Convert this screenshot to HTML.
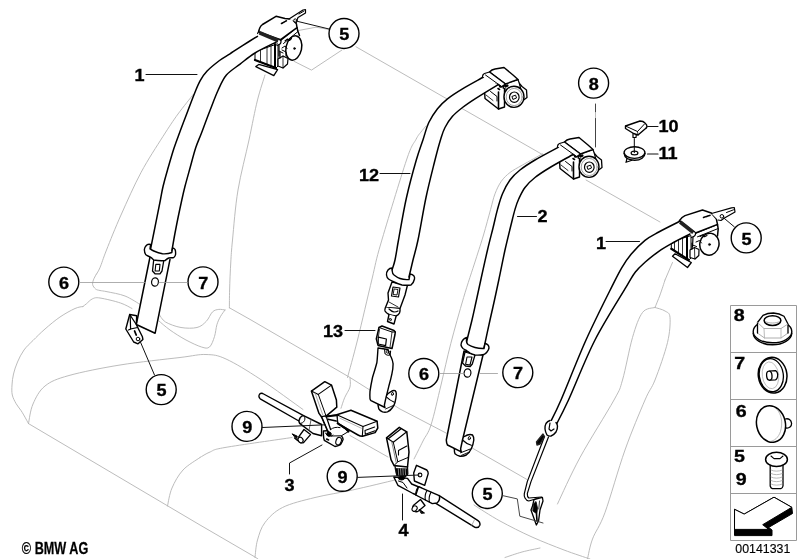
<!DOCTYPE html>
<html lang="en">
<head>
<meta charset="utf-8">
<title>Rear seat belt - parts diagram</title>
<style>
html,body{margin:0;padding:0;background:#fff;}
body{width:799px;height:559px;overflow:hidden;}
svg{display:block;font-family:"Liberation Sans",sans-serif;will-change:transform;}
path,circle,ellipse,line,polyline,polygon,rect{fill:none;stroke:#000;stroke-width:1.5;stroke-linecap:round;stroke-linejoin:round;}
.g path,.g{stroke:#b4b4b4;stroke-width:0.9;}
.w{fill:#fff;}
.k{fill:#000;}
.h{stroke-width:0.8;}
.ld{stroke:#111;stroke-width:1;}
.lg{stroke:#999;stroke-width:0.8;}
text{fill:#000;stroke:none;}
.n{font-weight:bold;font-size:17.2px;text-anchor:middle;stroke:#000;stroke-width:0.35px;}
.bd{stroke:#9a9a9a;stroke-width:1;stroke-linecap:butt;}

</style>
</head>
<body>
<svg width="799" height="559" viewBox="0 0 799 559">
<!-- 10_seat -->
<g class="g">
<path d="M193.3,94.4 C190.8,97.7 183.1,107 178,114 C172.9,121 169.2,126.7 163,136.4 C156.8,146.2 148,159.4 141,172.5 C134,185.6 126.8,202.1 121,215 C115.2,227.9 110,241.2 106.5,250 C103,258.8 101.7,263.6 100,267.6 C98.3,271.6 97.1,272.9 96.5,274"/>
<path d="M96.5,274 C96.1,274.8 94.7,276.8 94,278.5 C93.3,280.2 92.3,282.8 92.6,284.5 C92.9,286.2 94.4,288 95.6,289 C96.8,290 98.1,290.1 100,290.5 C101.9,290.9 102.8,290.8 107,291.7 C111.2,292.6 119.3,293.8 125,296 C130.7,298.2 138.3,303.5 141,305"/>
<path d="M159,314 C160.1,315.3 161.8,319.8 165.5,322 C169.2,324.2 175.8,326.6 181,327.5 C186.2,328.4 192.8,328.5 197,327.5 C201.2,326.5 203.7,323.9 206.3,321.3 C208.9,318.7 210.4,313.9 212.5,311.9 C214.6,309.9 216.7,309.7 218.8,309.4 C220.9,309.1 224,309.9 225,310"/>
<path d="M225,310 C224.3,311.1 221.9,313.9 220.6,316.3 C219.2,318.8 217.9,321.3 216.9,324.7 C215.9,328.1 215.7,332.8 214.5,336.5 C213.3,340.2 211.7,345.2 209.5,347 C207.3,348.8 205.4,348.2 201.5,347 C197.6,345.8 191.2,342.8 186,340 C180.8,337.2 174.5,333.2 170,330 C165.5,326.8 160.8,322.5 159,321"/>
<path d="M83,306.5 C83.6,306 84.9,305 86.5,303.7 C88.1,302.4 90.2,299.8 92.5,298.8 C94.8,297.9 95.3,297.3 100,298 C104.7,298.7 115.2,301.2 120.5,303 C125.8,304.8 130.1,307.6 132,308.5"/>
<path d="M83,306.5 C81.7,306.8 78.8,306.8 75,308.5 C71.2,310.2 65,313.6 60,317 C55,320.4 49.5,325.1 45,329 C40.5,332.9 36.5,337 33,340.5 C29.5,344 26.6,346.4 24,350 C21.4,353.6 19.2,358 17.5,362 C15.8,366 14.4,370.2 13.5,374 C12.6,377.8 12.2,381.5 12,385 C11.8,388.5 11.6,391.9 12.3,395 C13,398.1 14.6,400.9 16,403.5 C17.4,406.1 19.3,407.9 21,410.5 C22.7,413.1 24.8,416.8 26,419 C27.2,421.2 28.1,422.8 28.5,423.6"/>
<path d="M28.5,423.6 L200,525 L255,557 L258,559"/>
<path d="M28.5,423.6 C29.2,420.3 30.2,410.3 33,404 C35.8,397.7 39,390.8 45,386 C51,381.2 56.5,379 69,375.5 C81.5,372 101.5,368 120,365 C138.5,362 165.7,359.2 180,357.5 C194.3,355.8 198.3,354.2 206,354.5 C213.7,354.8 217,354.9 226,359 C235,363.1 247.2,370.6 260,379 C272.8,387.4 295.8,404.4 303,409.5"/>
<path d="M350,435.5 L388,457"/>
<path d="M474,505 C478.3,507.7 490.3,515.7 500,521 C509.7,526.3 521.3,532.2 532,537 C542.7,541.8 554.3,546.3 564,550 C573.7,553.7 585.7,557.5 590,559"/>
<path d="M265,75 C263.8,79.2 260.2,89.2 257.5,100 C254.8,110.8 252.2,125 249,140 C245.8,155 240.8,173.3 238,190 C235.2,206.7 233.7,228 232.5,240 C231.3,252 231.3,253.7 230.8,262 C230.3,270.3 229.8,282.4 229.6,290 C229.4,297.6 229.4,304.8 229.4,307.8"/>
<path d="M229.4,307.8 L250,319.4 L350,377.5 L400,409 L446.4,433.2 L527,479.5"/>
<path d="M350,378 C350,379.5 350.9,383.7 350,387 C349.1,390.3 346.1,394.2 344.6,397.8 C343.1,401.4 341.6,406.6 341,408.3"/>
<path d="M356,46.8 L448,99.5"/>
<path d="M462,108.5 L545,156"/>
<path d="M586,180 L660,222"/>
<path d="M294,61.3 L311.5,70.1 L342,50"/>
<path d="M297.5,30.7 L316,27.2 L329,29.5"/>
<path d="M426,126 C425.2,127 422.7,129.8 421,132 C419.3,134.2 418.4,134.7 416,139.4 C413.6,144.1 412.3,142.7 406.5,160 C400.7,177.3 386.8,223.2 381,243 C375.2,262.8 375.9,262.8 372,279 C368.1,295.2 361.6,323.6 357.5,340 C353.4,356.4 349.2,371.2 347.5,377.5"/>
<path d="M542.5,153.8 C539.2,155.7 527.9,161.9 522.5,165 C517.1,168.1 513.5,169.8 510,172.5 C506.5,175.2 503.8,177.8 501.3,181.3 C498.8,184.9 496.8,189.1 495,193.8 C493.2,198.5 492.5,202.5 490.6,209.4 C488.7,216.3 486,226.6 483.5,235 C481,243.4 478.9,249.6 475.6,260 C472.3,270.4 467.7,283.7 463.6,297.6 C459.5,311.5 454.6,328.9 450.8,343.5 C447,358.1 444.3,371.4 441,385 C437.7,398.6 434,415.7 431,425 C428,434.3 425.8,435.3 423,441 C420.2,446.7 415.5,456 414,459"/>
<path d="M200,457.5 C201.7,456.6 205.8,453.7 210,452 C214.2,450.3 211.3,449.9 225,447.5 C238.7,445.1 280.8,439.2 292,437.5"/>
<path d="M167.5,506 C168.2,503 169.4,494 172,488 C174.6,482 178.3,475.1 183,470 C187.7,464.9 197.2,459.6 200,457.5"/>
<path d="M255,557.5 C255.4,554.6 255.8,545.8 257.5,540 C259.2,534.2 260.8,527.9 265,522.5 C269.2,517.1 274.2,511.7 282.5,507.5 C290.8,503.3 303.3,500.4 315,497.5 C326.7,494.6 339.2,492.9 352.5,490 C365.8,487.1 387.9,481.7 395,480"/>
<path d="M665,280 C664.2,282.5 661.7,290.4 660,295 C658.3,299.6 655.8,305.4 655,307.5"/>
<path d="M655,307.5 C652.9,308.3 646.2,307.5 642.5,312.5 C638.8,317.5 635.8,326.2 632.5,337.5 C629.2,348.8 625.6,369.6 622.5,380 C619.4,390.4 621.1,387.1 614,400 C606.9,412.9 589.4,440.2 580,457.5 C570.6,474.8 561.2,496.2 557.5,504"/>
<path d="M655,307.5 C656.7,308.1 662.5,309.3 665,311 C667.5,312.7 669.6,312.2 670,317.5 C670.4,322.8 670,332.1 667.5,342.5 C665,352.9 658.8,370.4 655,380 C651.2,389.6 650,388.3 645,400 C640,411.7 631.7,431.2 625,450 C618.3,468.8 610.4,497.7 605,512.5 C599.6,527.3 595.4,531.2 592.5,539 C589.6,546.8 588.3,555.7 587.5,559"/>
<path d="M672.5,262.5 L665,280"/>
<path d="M505,557.5 C507.8,556.6 516.2,553.6 522,552 C527.8,550.4 537,548.7 540,548"/>
</g>
<!-- 20_retr_low -->
<g>
<path class="w" style="stroke-width:1.3" d="M255.8,66.6 L258.8,64.4 L277.6,69.6 L273.8,75.7Z"/>
<path class="w" style="stroke-width:1" d="M255,52 L255,60 L276,68 L278,66 L278,44Z"/>
<path class="h" d="M260.5,50 L260.5,61.5"/>
<path class="h" d="M267,46 L267,64.5"/>
<path class="h" d="M271,45 L271,65.5"/>
<path style="stroke-width:2" d="M275,44 L275,67"/>
<path style="stroke-width:2.2" d="M255,60 L276,68"/>
</g>
<g transform="translate(0,0)">
<path class="w" style="stroke-width:1.4" d="M484.5,90 L485,98.5 L498.5,109 L504.5,107 L504.5,86 L495,84 Z"/>
<path style="stroke-width:1.6" d="M498.5,92 L498.5,109"/>
<path style="stroke-width:1" d="M490.5,91.5 L497,96.5 L497,101"/>
<path class="h" d="M486,95 L493,100.5"/>
</g>
<g transform="translate(75,70)">
<path class="w" style="stroke-width:1.4" d="M484.5,90 L485,98.5 L498.5,109 L504.5,107 L504.5,86 L495,84 Z"/>
<path style="stroke-width:1.6" d="M498.5,92 L498.5,109"/>
<path style="stroke-width:1" d="M490.5,91.5 L497,96.5 L497,101"/>
<path class="h" d="M486,95 L493,100.5"/>
</g>
<g>
<path class="w" style="stroke-width:1.3" d="M672.5,256.3 L675,253.8 L691.3,262.5 L687.5,267.5Z"/>
<path class="w" style="stroke-width:1" d="M671.3,242 L671.3,248.8 L688.8,260 L691,258 L691,236Z"/>
<path class="h" d="M674.5,241 L674.5,251"/>
<path class="h" d="M678.5,238 L678.5,253.5"/>
<path class="h" d="M682.5,236 L682.5,256"/>
<path style="stroke-width:2" d="M687,235 L687,259"/>
<path style="stroke-width:2.2" d="M671.3,248.8 L688.8,260"/>
</g>
<!-- 25_pre -->
<g>
<path class="w" style="stroke-width:1.4" d="M460,438 C462,437.6 465.6,435.8 467.5,435 C469.2,434.4 471,434.4 472.5,435 C473.5,436.3 473.9,438 473.8,440 C473.4,443.3 472.5,446.3 471.3,448.8 C470,451.5 468.4,453.6 466.3,455 C464.3,456 462.2,456.4 460,456.3 C458,455.8 456.3,455 455,453.8 C454.5,452.5 454.3,451.2 454.4,450 L454,446 Z"/>
<ellipse style="stroke-width:0.9" cx="469.3" cy="438.2" rx="1.1" ry="1.7" transform="rotate(15 469.3 438.2)"/>
<path style="stroke-width:1" d="M460.5,452.8 L470.3,449"/>
<path style="stroke-width:0.9" d="M461.5,455.3 L469.5,452"/>
</g>
<!-- 30_belts -->
<path d="M257.5,36.3 C255,37.8 247.1,42.7 242.5,45.6 C237.9,48.5 233.8,51.3 230,53.8 C226.2,56.3 223.3,57.6 219.5,60.5 C215.7,63.4 210.3,67.7 207.1,71 C203.9,74.3 202.3,76.9 200.2,80.6 C198.1,84.3 196.8,87.9 194.7,93 C192.6,98.1 190.2,104.7 187.8,111 C185.4,117.3 182.5,124.7 180.2,131 C177.9,137.3 175.9,142.3 173.8,148.8 C171.7,155.3 169.3,163.8 167.5,170 C165.7,176.2 164.3,181.3 163.1,186.3 C161.9,191.3 161.8,192.7 160.4,200 C159,207.3 156,221.9 154.4,230 C152.8,238.1 151.2,245.7 150.6,248.8 L171.9,251 C172.5,247.5 173.9,238.5 175.6,230 C177.2,221.5 180.2,207.3 181.8,200 C183.4,192.7 183.6,191.8 185,186.3 C186.4,180.8 188.5,173.5 190.3,167 C192.1,160.5 193.9,153.2 195.8,147.5 C197.7,141.8 199.2,139.1 201.5,133 C203.8,126.9 207,118.1 209.8,111 C212.6,103.9 215.3,96.3 218.1,90.3 C220.9,84.3 222.7,79.5 226.4,75.1 C230.1,70.7 235.3,67.8 240.1,64.1 C244.9,60.4 248.9,56.7 255,53 C261.1,49.3 272.9,43.8 276.5,41.9 Z" style="fill:#fff;stroke:none"/>
<path d="M257.5,36.3 C255,37.8 247.1,42.7 242.5,45.6 C237.9,48.5 233.8,51.3 230,53.8 C226.2,56.3 223.3,57.6 219.5,60.5 C215.7,63.4 210.3,67.7 207.1,71 C203.9,74.3 202.3,76.9 200.2,80.6 C198.1,84.3 196.8,87.9 194.7,93 C192.6,98.1 190.2,104.7 187.8,111 C185.4,117.3 182.5,124.7 180.2,131 C177.9,137.3 175.9,142.3 173.8,148.8 C171.7,155.3 169.3,163.8 167.5,170 C165.7,176.2 164.3,181.3 163.1,186.3 C161.9,191.3 161.8,192.7 160.4,200 C159,207.3 156,221.9 154.4,230 C152.8,238.1 151.2,245.7 150.6,248.8"/>
<path d="M276.5,41.9 C272.9,43.8 261.1,49.3 255,53 C248.9,56.7 244.9,60.4 240.1,64.1 C235.3,67.8 230.1,70.7 226.4,75.1 C222.7,79.5 220.9,84.3 218.1,90.3 C215.3,96.3 212.6,103.9 209.8,111 C207,118.1 203.8,126.9 201.5,133 C199.2,139.1 197.7,141.8 195.8,147.5 C193.9,153.2 192.1,160.5 190.3,167 C188.5,173.5 186.4,180.8 185,186.3 C183.6,191.8 183.4,192.7 181.8,200 C180.2,207.3 177.2,221.5 175.6,230 C173.9,238.5 172.5,247.5 171.9,251"/>
<path class="w" d="M150,257 L136.3,324.5 L155.1,333.3 L170,259.4"/>
<path d="M483.5,77 C480,79 468.5,85.2 462.5,88.8 C456.5,92.4 451.7,95.5 447.5,98.8 C443.3,102.1 440.6,104.8 437.5,108.8 C434.4,112.8 431.2,117.4 428.8,122.5 C426.4,127.6 425.2,133.2 423.1,139.4 C421,145.7 419.1,150.3 416.3,160 C413.5,169.7 409.5,184.2 406.5,197.5 C403.5,210.8 400.4,229.6 398.5,240 C396.6,250.4 396.1,255 395,260 C393.9,265 392.5,268.3 392,270 L409,277 C409.7,274.2 411.5,266.2 413,260 C414.5,253.8 415.8,250.4 418,240 C420.2,229.6 423.2,210.8 426,197.5 C428.8,184.2 432.6,169.7 435,160 C437.4,150.3 438.9,144.8 440.6,139.4 C442.3,134 443,131.3 445,127.5 C447,123.7 449.6,119.6 452.5,116.3 C455.4,113 458.8,110.4 462.5,107.5 C466.2,104.6 469.1,102.6 475,98.8 C480.9,95 494.2,87 498,84.7 Z" style="fill:#fff;stroke:none"/>
<path d="M483.5,77 C480,79 468.5,85.2 462.5,88.8 C456.5,92.4 451.7,95.5 447.5,98.8 C443.3,102.1 440.6,104.8 437.5,108.8 C434.4,112.8 431.2,117.4 428.8,122.5 C426.4,127.6 425.2,133.2 423.1,139.4 C421,145.7 419.1,150.3 416.3,160 C413.5,169.7 409.5,184.2 406.5,197.5 C403.5,210.8 400.4,229.6 398.5,240 C396.6,250.4 396.1,255 395,260 C393.9,265 392.5,268.3 392,270"/>
<path d="M498,84.7 C494.2,87 480.9,95 475,98.8 C469.1,102.6 466.2,104.6 462.5,107.5 C458.8,110.4 455.4,113 452.5,116.3 C449.6,119.6 447,123.7 445,127.5 C443,131.3 442.3,134 440.6,139.4 C438.9,144.8 437.4,150.3 435,160 C432.6,169.7 428.8,184.2 426,197.5 C423.2,210.8 420.2,229.6 418,240 C415.8,250.4 414.5,253.8 413,260 C411.5,266.2 409.7,274.2 409,277"/>
<path d="M558.5,147.2 C554.6,149.3 541.4,156.2 535,160 C528.6,163.8 524.2,166.7 520,170 C515.8,173.3 512.9,176 510,180 C507.1,184 504.6,188.9 502.5,193.8 C500.4,198.7 499.1,203.7 497.5,209.4 C495.9,215.1 494.7,221.2 493,228 C491.3,234.8 489.5,241.5 487.5,250 C485.5,258.5 482.9,270.3 481,279 C479.1,287.7 477.5,295.2 476,302 C474.5,308.8 473.6,313.3 472,320 C470.4,326.7 467.4,338.3 466.5,342 L484,348 C485,343.3 488.2,328 490,320 C491.8,312 493,306.8 494.5,300 C496,293.2 497.2,287.3 499,279 C500.8,270.7 503,259 505,250 C507,241 509.3,231.8 511,225 C512.7,218.2 513.7,213.8 515,209.4 C516.3,205 517.1,202.5 518.8,198.8 C520.5,195.2 522.3,191.1 525,187.5 C527.7,183.9 530.8,180.8 535,177.5 C539.2,174.2 543.7,171.3 550,167.5 C556.3,163.7 569.2,156.7 573,154.5 Z" style="fill:#fff;stroke:none"/>
<path d="M558.5,147.2 C554.6,149.3 541.4,156.2 535,160 C528.6,163.8 524.2,166.7 520,170 C515.8,173.3 512.9,176 510,180 C507.1,184 504.6,188.9 502.5,193.8 C500.4,198.7 499.1,203.7 497.5,209.4 C495.9,215.1 494.7,221.2 493,228 C491.3,234.8 489.5,241.5 487.5,250 C485.5,258.5 482.9,270.3 481,279 C479.1,287.7 477.5,295.2 476,302 C474.5,308.8 473.6,313.3 472,320 C470.4,326.7 467.4,338.3 466.5,342"/>
<path d="M573,154.5 C569.2,156.7 556.3,163.7 550,167.5 C543.7,171.3 539.2,174.2 535,177.5 C530.8,180.8 527.7,183.9 525,187.5 C522.3,191.1 520.5,195.2 518.8,198.8 C517.1,202.5 516.3,205 515,209.4 C513.7,213.8 512.7,218.2 511,225 C509.3,231.8 507,241 505,250 C503,259 500.8,270.7 499,279 C497.2,287.3 496,293.2 494.5,300 C493,306.8 491.8,312 490,320 C488.2,328 485,343.3 484,348"/>
<path class="w" style="stroke-width:1.5" d="M464,351 L446.3,440 C446.4,442.5 446.9,444 447.5,445 L461.3,451.9 C460.9,450.5 460.7,449.6 460.6,448.8 L462.5,440 L483,355 Z"/>
<path style="stroke-width:1.2" d="M462.5,440 C465,442.5 468,444.3 471.3,445.3"/>
<path d="M679.4,221.5 C676,223.2 664.5,228.9 658.8,232 C653.1,235.1 649.6,236.6 645,240.3 C640.4,244 635.2,249.4 631.3,254 C627.4,258.6 624.9,262.4 621.7,267.8 C618.5,273.2 618,274.4 612,286.4 C606,298.4 594.5,321.1 586,340 C577.5,358.9 567,386.2 561,400 C555,413.8 551.8,419.2 550,423 L554,429 C556.4,424.2 561.7,414.8 568.5,400 C575.3,385.2 585.3,358.9 595,340 C604.7,321.1 619.8,297.7 626.5,286.4 C633.2,275.1 632.3,276 635.4,272 C638.5,268 641.1,265.8 645,262.3 C648.9,258.9 654.2,254.5 658.8,251.3 C663.4,248.1 667.4,245.9 672.6,243 C677.8,240.1 687.1,235.5 690,234 Z" style="fill:#fff;stroke:none"/>
<path d="M679.4,221.5 C676,223.2 664.5,228.9 658.8,232 C653.1,235.1 649.6,236.6 645,240.3 C640.4,244 635.2,249.4 631.3,254 C627.4,258.6 624.9,262.4 621.7,267.8 C618.5,273.2 618,274.4 612,286.4 C606,298.4 594.5,321.1 586,340 C577.5,358.9 567,386.2 561,400 C555,413.8 551.8,419.2 550,423"/>
<path d="M690,234 C687.1,235.5 677.8,240.1 672.6,243 C667.4,245.9 663.4,248.1 658.8,251.3 C654.2,254.5 648.9,258.9 645,262.3 C641.1,265.8 638.5,268 635.4,272 C632.3,276 633.2,275.1 626.5,286.4 C619.8,297.7 604.7,321.1 595,340 C585.3,358.9 575.3,385.2 568.5,400 C561.7,414.8 556.4,424.2 554,429"/>
<!-- 40_retr_up -->
<g>
<ellipse class="w" cx="293.8" cy="48" rx="7.8" ry="12.3" transform="rotate(12 293.8 48)"/>
<circle class="k" style="stroke-width:0.5" cx="294.5" cy="48.5" r="1"/>
<path d="M281,40 L297,27.5 L297.8,31 L299.5,35.5"/>
<path style="stroke-width:1.2" d="M281,40 L279,45 L279,56"/>
<path style="stroke-width:1" d="M283.5,43.5 L298,31.5"/>
<path style="stroke-width:1.1" d="M285,41 L287.5,39 L289.5,40.5 L291.5,38.5"/>
<path style="stroke-width:1" d="M282,48 L285,46 L287,48.5"/>
<path style="stroke-width:1" d="M279,51 L283,53"/>
<path class="w" style="stroke-width:1.2" d="M278,59 L283,56 L288,58.5 L287.5,64 L283,68 L278,66Z"/>
<path class="h" d="M283,56 L283,68"/>
<path style="stroke-width:1.2" d="M280,52 L280,58"/>
<path style="stroke-width:1" d="M282,50 L286,52 L286,56"/>
<path class="w" d="M258.8,32 C259,28.5 260.5,26 262.5,24.5 L276,16.3 L285,18.5 L292,19.3 L296.4,23.8 L297,27.5 L280.6,39.6 Z"/>
<path class="w" style="stroke-width:1.2" d="M289,19 L303,10 L305.5,9.5 L305.5,13 L298,17.5 L297,20 L296.5,22.5"/>
<path style="stroke-width:1" d="M299,14 L304,11"/>
<circle class="w" style="stroke-width:1" cx="295.3" cy="20.5" r="1.6"/>
<path style="stroke-width:1.6;stroke-dasharray:1.2 1" d="M281.5,23.5 L287,20.5"/>
<path style="stroke-width:3.8;stroke:#222;stroke-linecap:butt" d="M259.5,32.8 L278.4,40.8"/>
<path style="stroke-width:1.2" d="M257.6,33.5 L258.8,31"/>
<path class="w" style="stroke-width:1.2" d="M279,39.3 C281.5,40 281.5,42.5 280,44 L277,45.5"/>
</g>
<g transform="translate(0,0)">
<path class="w" style="stroke-width:1.3" d="M519,83 L522,86.5 L526.5,90 L527,97.5 L523,100.5 L520,98"/>
<path class="w" style="stroke-width:1.2" d="M505,84 L518,79.5 L519.5,84 L521,90 L508,90 L503,88 Z"/>
<ellipse class="w" style="stroke-width:1.4" cx="514" cy="96.8" rx="10" ry="10.6"/>
<ellipse class="h" style="stroke:#888" cx="514.2" cy="97" rx="8" ry="8.6"/>
<ellipse class="w" style="stroke-width:1.2" cx="514.3" cy="97.2" rx="4.8" ry="5.2"/>
<path style="stroke-width:1" d="M512.3,96.3 L515.6,95.2 L516.5,98 L513.3,99.3 Z"/>
<path style="stroke-width:2.8" d="M500.3,86.3 L503,85.6"/>
<path style="stroke-width:2.6" d="M505.5,86.3 L507.3,85.6"/>
<path style="stroke-width:1.6" d="M498,88.5 L499.5,89.5"/>
<path class="w" style="stroke-width:1.4" d="M489.5,72 C491,70.3 493,69.3 495,69 L504,67.5 L513,75 L518,79.5 L505.5,84 Z"/>
<path class="w" style="stroke-width:1.3" d="M482.5,76.5 C482.6,75 483.3,74 484.5,73.5 L489.5,72 L505.5,84 L501.5,86.8 L498,84.3"/>
<path style="stroke-width:1" d="M485.5,75 L500.5,85.8"/>
</g>
<g transform="translate(75,70)">
<path class="w" style="stroke-width:1.3" d="M519,83 L522,86.5 L526.5,90 L527,97.5 L523,100.5 L520,98"/>
<path class="w" style="stroke-width:1.2" d="M505,84 L518,79.5 L519.5,84 L521,90 L508,90 L503,88 Z"/>
<ellipse class="w" style="stroke-width:1.4" cx="514" cy="96.8" rx="10" ry="10.6"/>
<ellipse class="h" style="stroke:#888" cx="514.2" cy="97" rx="8" ry="8.6"/>
<ellipse class="w" style="stroke-width:1.2" cx="514.3" cy="97.2" rx="4.8" ry="5.2"/>
<path style="stroke-width:1" d="M512.3,96.3 L515.6,95.2 L516.5,98 L513.3,99.3 Z"/>
<path style="stroke-width:2.8" d="M500.3,86.3 L503,85.6"/>
<path style="stroke-width:2.6" d="M505.5,86.3 L507.3,85.6"/>
<path style="stroke-width:1.6" d="M498,88.5 L499.5,89.5"/>
<path class="w" style="stroke-width:1.4" d="M489.5,72 C491,70.3 493,69.3 495,69 L504,67.5 L513,75 L518,79.5 L505.5,84 Z"/>
<path class="w" style="stroke-width:1.3" d="M482.5,76.5 C482.6,75 483.3,74 484.5,73.5 L489.5,72 L505.5,84 L501.5,86.8 L498,84.3"/>
<path style="stroke-width:1" d="M485.5,75 L500.5,85.8"/>
</g>
<g>
<ellipse class="w" cx="709.4" cy="244.2" rx="9.6" ry="11" transform="rotate(10 709.4 244.2)"/>
<circle class="k" style="stroke-width:0.5" cx="709.5" cy="244.5" r="1.1"/>
<path d="M695.6,233 L717.5,224.4 L718.2,229 L717.5,236"/>
<path style="stroke-width:1.2" d="M695.6,233 L693,237 L692.5,247"/>
<path style="stroke-width:1" d="M697.5,236.8 L718,228.6"/>
<path style="stroke-width:1.1" d="M700,236.5 L703,235 L704.5,236.8 L707,235.5"/>
<path style="stroke-width:1" d="M696,242 L699.5,240.5 L701.5,243"/>
<path style="stroke-width:1" d="M692.5,245 L696.5,246.5"/>
<path class="w" style="stroke-width:1.2" d="M690,250 L694.5,247.5 L699,249.5 L698.8,255.5 L695,259 L690,257.5Z"/>
<path class="h" d="M694.5,247.5 L694.8,259"/>
<path style="stroke-width:1.2" d="M692,243 L692,249"/>
<path class="w" d="M679.4,220.6 C680.5,218.5 682.5,216.8 685,215.6 L702.5,210 L711.3,213 L716.3,218.8 L717.5,224.4 L695.6,233 Z"/>
<path class="w" style="stroke-width:1.2" d="M711.5,213.5 L731.5,207.8 L734.3,207.5 L735,212 L724,218.2 L721,220.5 L718,220"/>
<path style="stroke-width:1" d="M726.5,212.5 L733.5,209.8"/>
<circle class="w" style="stroke-width:1" cx="721.9" cy="216.3" r="1.8"/>
<path style="stroke-width:1.6;stroke-dasharray:1.2 1" d="M703.5,217.5 L710,215.3"/>
<path style="stroke-width:3.8;stroke:#222;stroke-linecap:butt" d="M680.2,222 L693.4,232.6"/>
<path class="w" style="stroke-width:1.2" d="M694,231.5 C696,232.2 696,234.5 694.5,236 L691.5,237.5"/>
</g>
<!-- 50_latches -->
<g>
<path class="w" style="stroke-width:1.3" d="M153.8,259 L152.5,271 L155,273.8 L160,273.8 L162,271 L163.8,260.5 Z"/>
<path style="stroke-width:1.1" d="M155.8,264.4 L160,264.4 L159.3,271 L155.1,271Z"/>
<path class="w" style="stroke-width:1.4" d="M150.6,244.4 C148.5,244 146.8,244.6 146.3,245.6 C145,247 144.2,248.5 144.4,250 C144.5,252 144.8,253.5 145.6,254.4 C147,255.8 148.5,256.3 150,256.9 C151.5,257.6 152.6,258.8 153.8,260 C157,260.6 161,260.9 165,260.6 C166.3,259.5 167.3,258.5 168.8,258 C170.5,257.7 172.3,257.9 173.8,257.5 C175,256.6 175.6,255.3 175.6,253.8 C175.7,252 175.5,250.5 175,249.4 C174.3,248.6 173.4,248.1 172.5,248 L171.9,252.5 C168.5,253.9 165.5,254 162.5,253.8 C159.5,253.4 156.5,252.3 153.8,251 C152.3,250.4 151.2,249.6 150,248.8 Z"/>
<ellipse class="w" style="stroke-width:1.2" cx="155" cy="282" rx="3.4" ry="4.2" transform="rotate(8 155 282)"/>
</g>
<g>
<path class="w" style="stroke-width:1.4" d="M129.7,314.5 L136.7,315.8 L136.3,324.5 L138,328 L142.4,336.8 L142.9,339.4 L138,343.8 L133.7,342 L125.8,329 Z"/>
<path style="stroke-width:1.3" d="M129.7,314.5 L136.3,324.5"/>
<path style="stroke-width:1.2" d="M130.2,316 L130.6,329 L137.5,327.5"/>
<path style="stroke-width:1.2" d="M128.5,330 L130.6,329"/>
<path style="stroke-width:1.8" d="M134.6,331 L136.2,335"/>
<circle style="stroke-width:1" cx="138" cy="339" r="1.8"/>
</g>
<g>
<path class="w" style="stroke-width:1.4" d="M392,282 L388,293 L388.5,300 L385.5,307.5 L400,308.5 L405,295 L407.5,285 Z"/>
<path style="stroke-width:1.2" d="M393,287 L400,288 L398.5,297 L391.5,296Z"/>
<path style="stroke-width:0.9" d="M394.5,289 L398,289.5 L397,295 L393.5,294.5Z"/>
<path class="h" d="M389,302 L398,307"/>
<path class="w" style="stroke-width:1.4" d="M392,268 C390.5,268 389,268.8 388,270 C386.8,271.5 386.3,273.3 386.5,275 C386.7,276.8 387.3,278 388.5,279 C390,280.2 391.5,280.8 393,281.5 C396,283 399,284.3 402,285 C405,285.4 408,285.4 411,285 C412.8,283.5 414,281.5 414.5,279 C414.7,277.8 414.5,276.8 414,276 C413,274.8 411.5,274.2 410,274 L409,279.5 C405.5,279.8 402.5,279.4 400,278.5 C397.5,277.6 395.5,276.2 394,275 C392.8,274.2 392.2,272 392,270 Z"/>
<path class="w" style="stroke-width:1.4" d="M385.5,307.5 C384.8,308.8 384.7,310 385,311 C386,312.8 387.5,313.8 389,314.5 C391.3,315.5 393.6,316 396,316 C397.8,315.3 398.9,314.3 399.5,313 C400,311.6 400.2,310.2 400,309"/>
<path style="stroke-width:1.2" d="M389,309 C390.5,310.5 392,311.5 394,312 C395.5,312 397,311.7 398,311"/>
<path class="w" style="stroke-width:1.4" d="M389,314.5 L387.5,321.5 L394,324 L396,316.5"/>
<path style="stroke-width:0.9" d="M390,318.5 L391.5,319 L391.2,320.5 L389.7,320Z"/>
</g>
<g>
<path class="w" style="stroke-width:1.4" d="M384,398 C386.5,394.5 389,392.3 391.3,391.3 C392.6,390.5 393.9,390.3 395,390.6 C395.9,391.4 396.3,392.5 396.3,393.8 C396.2,396.8 395.7,399.8 395,402.5 C394.4,404.5 393.6,406.2 392.5,407.5 C391.2,409.5 389.5,411 387.5,411.9 C385.8,412.3 384.1,412.3 382.5,411.9 C381,411.2 379.7,410.2 378.8,408.8 L378,405 Z"/>
<ellipse style="stroke-width:0.9" cx="392.4" cy="393.9" rx="1" ry="1.6" transform="rotate(15 392.4 393.9)"/>
<path style="stroke-width:0.9" d="M385.5,409 L393.3,405.5"/>
<path class="w" style="stroke-width:1.4" d="M378,348 C377.7,353 377.4,358 376.9,362.5 C375.6,367.6 374,372.5 372.5,377.5 C371.5,382.2 370.6,386.8 370,391.3 C369.8,394 369.8,396.5 370,398.8 C370.2,399.6 370.5,400.2 371,400.6 L385,407.5 C384.6,406.6 384.4,405.8 384.4,405 C385,402 385.6,399.1 386.3,396.3 C387.1,393 388,389.6 388.8,386.3 C390,382 391.1,377.8 391.9,373.8 C392.7,370.3 393.1,367 393.1,363.8 C392.8,361.5 392.2,359.4 391.3,357.5 L388.5,352 L388,349.5 Z"/>
<path style="stroke-width:1.1" d="M386.3,396.8 C388.8,399.3 391.5,401 394.4,402.3"/>
<path style="stroke-width:1.1" d="M384.6,349.5 L385,353.5 C386.5,355.3 388.5,355.6 390.2,354.6 L390.6,351"/>
<ellipse style="stroke-width:0.9" cx="387.7" cy="351.6" rx="1.3" ry="1.6"/>
<path class="w" style="stroke-width:1.5" d="M379,327.5 L382,326 L394,330.5 L395.3,332 L395,334.5 L392,348.5 L378,345.4 L376.3,338.8 Z"/>
<path style="stroke-width:1" d="M379,327.5 L392,332 L395.3,332"/>
<path class="h" d="M392,332 L390,347.5"/>
<path style="stroke-width:1.2" d="M378.3,337.2 L386.4,339 L385.6,345.6 L378.2,344Z"/>
<path class="h" d="M379.5,329.5 L378.3,337.2"/>
</g>
<!-- 55_small -->
<g>
<path class="w" style="stroke-width:1.2" d="M633,133.5 L633,137.5 L636,137.5 L636.3,134.5"/>
<path class="w" style="stroke-width:1.4" d="M625.5,126 L640,121 C642,121 644,121.8 645,123 C646.3,124 647,125.3 647,126.5 C646.8,127.6 646,128.4 645,129 L638,135 L633.5,133.5 L625.5,128.5 Z"/>
<path style="stroke-width:1" d="M625.5,126 L637.5,131.5 L644.5,124"/>
<path class="h" d="M637.5,131.5 L638,135"/>
<path style="stroke-width:1" d="M634.3,138.5 L634.3,152"/>
<path class="w" style="stroke-width:1.2" d="M627,158.5 L626,162.3 L632,160.3"/>
<path class="w" style="stroke-width:1.4" d="M624.2,153.5 C624.5,157 628,160 634.5,160.3 C641,160.3 644.8,157 645,153.5"/>
<ellipse class="w" style="stroke-width:1.4" cx="634.5" cy="152.6" rx="10.4" ry="5.8"/>
<ellipse class="w" style="stroke-width:1.2" cx="634.5" cy="153" rx="3.4" ry="1.9"/>
<path style="stroke-width:1" d="M634.3,147 L634.3,152.6"/>
</g>
<!-- 60_buckle3 -->
<g>
<path class="w" style="stroke-width:1.4" d="M262.7,393.5 L303.6,415.6 L298.9,421 L260.2,398.8 C258.6,397.5 258.6,395.3 259.7,394.1 C260.5,393.3 261.6,393.1 262.7,393.5 Z"/>
<path class="w" style="stroke-width:1.4" d="M303.6,415.6 L321.6,424.5 L321.6,435.8 L313,433.5 L299.6,423.4 C298.6,421.5 299,419.5 300.2,417.6 C301.2,416.3 302.3,415.6 303.6,415.6 Z"/>
<path style="stroke-width:1" d="M303.6,415.8 C305,416.8 305.3,418.6 304.5,420.6 C303.5,422.5 301.6,423.6 299.6,423.4"/>
<path style="stroke-width:0.9;stroke:#555" d="M311,419.8 L309,430.3"/>
<path class="w" style="stroke-width:1.3" d="M304,429.5 L298.2,437.6 C297.6,439.6 298.3,441.4 300,442.4 C301.6,443.2 303,443 304,442.2 L310.5,434.6 Z"/>
<ellipse class="w" style="stroke-width:1.1" cx="300.6" cy="440" rx="2.3" ry="2.9" transform="rotate(-35 300.6 440)"/>
<path class="k" style="stroke-width:1" d="M292.5,434 L297.3,436.2 L296.3,438.4 Z"/>
<path style="stroke-width:1.2" d="M294.5,438 L297.5,440.5"/>
<path class="w" style="stroke-width:1.4" d="M323.4,431 L323.4,434.9 C323.5,437 323.8,438.8 324.3,440.3 L335,446.5 C337,446.3 338.8,445.6 340.4,444.7 C341.6,443.2 342.5,441.4 343.1,439.4 C343,438 342.3,436.8 341.3,435.8 L338,430 Z"/>
<ellipse class="w" style="stroke-width:1.1" cx="338.6" cy="441.1" rx="2.6" ry="3.9" transform="rotate(20 338.6 441.1)"/>
<path style="stroke-width:1.6" d="M326.6,439 L328.6,440"/>
<path class="w" style="stroke-width:1.5" d="M336.8,414.8 L350.9,410.2 L377.1,421.3 L377.8,428 L375.1,432.6 L362.5,436.3 C360.8,436.3 359.3,435.8 358,435 L337.7,423.3 Z"/>
<path style="stroke-width:1.1" d="M336.8,414.8 L363,426.6 L377.1,421.3"/>
<path style="stroke-width:1.1" d="M363,426.6 L362.3,436.2"/>
<path style="stroke-width:1.1" d="M365,430.6 L374.6,427 M365.3,434.2 L375,430.8 M365,430.6 L365.3,434.2"/>
<path style="stroke-width:0.7;stroke:#999" d="M340,418.3 L361.5,428.3"/>
<path class="w" style="stroke-width:1.5" d="M311.4,391.1 L324.8,381.7 L331.5,385.1 L336.4,400 L336.8,407.2 L326.1,416.1 L321.6,417 L319,413.4 Z"/>
<path style="stroke-width:1.1" d="M311.4,391.1 L318.3,394.4 L331.5,385.1"/>
<path style="stroke-width:1" d="M318.3,394.4 L326.1,416.1"/>
<path style="stroke-width:0.7;stroke:#888" d="M315,392.9 L323.3,416.4"/>
<path class="w" style="stroke-width:1" d="M326.1,416.1 L336.8,414.8 L337.7,423.3 L348.5,431.5 L341.3,435.8 L331,436 L327,429.5 L321.6,417 Z"/>
<path style="stroke-width:2" d="M326.3,416.6 L336.6,415.2"/>
<path style="stroke-width:1.6" d="M328,419.2 L336.2,421"/>
<path style="stroke-width:2.2" d="M337.7,423.3 L345.8,428.6 L348.5,431.5"/>
<path style="stroke-width:1.6" d="M321.6,417 L327,429.5 L328.8,433.2"/>
<path style="stroke-width:1.3" d="M326.1,416.1 L330.6,429.5"/>
<path style="stroke-width:1" d="M330.6,429.5 C333,427.5 336.5,426.8 340,427.6"/>
<circle class="k" style="stroke-width:1" cx="328.9" cy="434" r="2.2"/>
<path style="stroke-width:1" d="M325.5,433 C327,436.5 331,437.3 333,435"/>
</g>
<!-- 62_buckle4 -->
<g>
<path class="w" style="stroke-width:1.4" d="M416.5,465.3 L426.8,470 C427.8,471 428.3,472.2 428.2,473.6 L424.7,485.3 L414.4,481 L413.7,473 Z"/>
<circle class="w" style="stroke-width:1.1" cx="420" cy="475" r="1.9"/>
<path class="w" style="stroke-width:1.4" d="M393.8,477 L397.9,485.3 L413,493.5 L420,496.3 L421.3,488 L411.7,484 L407.5,478.4 Z"/>
<path style="stroke-width:1" d="M398.5,481 L403,482.5 L407,488"/>
<path class="w" style="stroke-width:1.4" d="M439.2,495.6 L478,520.6 C479.6,521.8 480.3,523.6 479.8,525.2 C479,527.2 477,527.9 475,527.3 L435,502.8 Z"/>
<path class="h" style="stroke:#999" d="M474.5,519.8 L471.8,525.2"/>
<path class="w" style="stroke-width:1.4" d="M418.5,486.7 L439.2,495.6 C440,498 439.3,501 437,503 L432.3,503.6 L415.8,495 Z"/>
<path style="stroke-width:1.1" d="M427,490.5 C425.3,493.5 424.6,497 425.5,500"/>
<path style="stroke-width:1.1" d="M431,492.3 C429.3,495.5 428.6,499 429.5,502"/>
<path style="stroke-width:1.1" d="M418.5,486.7 C416.5,489 415.6,492 415.8,495"/>
<path class="w" style="stroke-width:1.3" d="M420.5,499.5 L413.3,505.5 C412.2,507.5 412.6,509.6 414,511 C415.5,512 417.3,511.8 418.5,511 L425,505.5 Z"/>
<ellipse class="w" style="stroke-width:1.1" cx="414.6" cy="508.6" rx="2.3" ry="2.9" transform="rotate(35 414.6 508.6)"/>
<path class="k" style="stroke-width:1" d="M419.5,509.5 L424.5,513 L421.5,513.3 Z"/>
<path class="w" style="stroke-width:1.2" d="M394.8,465.5 L407.5,466 L407.8,474 L405,477.2 L397,475.6 Z"/>
<path class="k" style="stroke:#111;stroke-width:0.8" d="M395.5,468.5 L407.5,468.8 L407.6,474 L404.8,476.8 L397,475.3 Z"/>
<path style="stroke:#ddd;stroke-width:0.6" d="M398.3,468.8 L398.7,475.6"/>
<path style="stroke:#ddd;stroke-width:0.6" d="M400.6,468.8 L401,475.6"/>
<path style="stroke:#ddd;stroke-width:0.6" d="M402.9,468.8 L403.3,475.6"/>
<path style="stroke:#ddd;stroke-width:0.6" d="M405.2,468.8 L405.6,475.6"/>
<ellipse class="k" style="stroke-width:1" cx="401.5" cy="478.3" rx="3" ry="1.7"/>
<path class="w" style="stroke-width:1.5" d="M386.5,437.8 L399.3,427.3 L406.8,431.8 L409,452 L407.5,467 L394,465.5 L391,459.6 Z"/>
<path style="stroke-width:1.1" d="M386.5,437.8 L393.3,442.3 L406.8,431.8"/>
<path style="stroke-width:1.3" d="M388.6,438.6 L400.5,429.2"/>
<path style="stroke-width:1" d="M393.3,442.3 L397.8,461.8 L394,465.5"/>
<path style="stroke-width:1" d="M397.8,461.8 L408,457.5"/>
<path class="h" style="stroke:#666" d="M391.8,442 L396.2,462.4"/>
<path style="stroke-width:1.1" d="M398.5,455 L398.5,450.6 L406.8,446"/>
</g>
<!-- 64_belt_lower -->
<g>
<path class="w" style="stroke-width:1.3" d="M465,352 L462.5,363 L465.5,366 L470.2,366.5 L472.3,364 L475,355 Z"/>
<path style="stroke-width:1.1" d="M467,357 L472,357 L470,365 L465.6,364.3Z"/>
<path class="w" style="stroke-width:1.4" d="M466.5,337.5 C464.8,338 463.4,339.2 462.5,340.5 C461.4,342 461,343.5 461,345 C461.3,346.5 462,347.7 463,348.5 C464.2,349.4 465.4,350 466.5,350.5 C467.8,351.2 469,352.2 470,353 C471.7,354 473.4,354.6 475,355 C478,355.3 481,355.1 484,354.5 C485.2,353.8 486.2,353 487,352 C488,350.8 488.7,349.5 489,348 C489,346.8 488.6,345.8 488,345 C487.2,344.2 486.2,343.7 485,343.5 L484,348.5 C481,348.6 478,348.3 475,347.5 C472.5,346.8 470,345.8 468,344.5 C466.8,343.6 466.3,341 466.5,339 Z"/>
<ellipse class="w" style="stroke-width:1.2" cx="467.5" cy="373" rx="3.4" ry="4.2" transform="rotate(8 467.5 373)"/>
</g>
<g>
<path class="t" style="stroke-width:1.2" d="M544.5,436.5 L527.3,481.6 L524.3,493.6 C524,495.8 524.3,497.2 525,498 C526,499.8 527.3,500.8 528.8,501 L538.6,498"/>
<path style="stroke-width:1.2" d="M548.5,437 L531,481.6 L527.3,493.6 C527.2,495.8 527.8,497.3 528.8,498 L541.6,497"/>
<path class="k" style="stroke:#222;stroke-width:1.4" d="M543,434 L536.5,442 L537,445 L540,444 L544.5,436.5 Z"/>
<path class="w" style="stroke-width:1.4" d="M550,420.5 C548.5,421 547,422 546,423.5 C545,425.3 544.8,427 545,429 C545.3,431.3 546,433.3 547,435 C548.3,436 549.6,436.3 551,436 C553,435.2 554.7,433.8 556,432 C557,430.2 557.6,428.2 557.5,426 C557.3,424.6 556.8,423.5 556,422.5"/>
<path style="stroke-width:1.2" d="M550,423 L549,429 L551,431 L554,429"/>
<path class="w" style="stroke-width:1.3" d="M534,499.6 L542.4,497.4 L543,501 L540,510 L538.6,520.7 L536.4,525 L534.8,520.7 L531,510 L532.6,505.6 Z"/>
<path class="k" style="stroke-width:0.8" d="M533.5,504 L536,501.5 L537.5,508 L536.8,514 L533,511 Z"/>
<path style="stroke-width:1.6" d="M536.5,514 L537,521"/>
<path class="h" d="M539.5,501 L538.8,509"/>
</g>
<!-- 80_labels -->
<circle class="w" style="stroke-width:1.4" cx="344" cy="33.5" r="15"/>
<text class="n" transform="translate(344.2,40.2) scale(1.05,1)" x="0" y="0">5</text>
<circle class="w" style="stroke-width:1.4" cx="63.8" cy="282.1" r="15"/>
<text class="n" transform="translate(64,288.8) scale(1.05,1)" x="0" y="0">6</text>
<circle class="w" style="stroke-width:1.4" cx="203" cy="281.9" r="15"/>
<text class="n" transform="translate(203.2,288.6) scale(1.05,1)" x="0" y="0">7</text>
<circle class="w" style="stroke-width:1.4" cx="161.2" cy="389.6" r="15"/>
<text class="n" transform="translate(161.4,396.3) scale(1.05,1)" x="0" y="0">5</text>
<circle class="w" style="stroke-width:1.4" cx="247" cy="426.4" r="15"/>
<text class="n" transform="translate(247.2,433.1) scale(1.05,1)" x="0" y="0">9</text>
<circle class="w" style="stroke-width:1.4" cx="342.2" cy="476.3" r="15"/>
<text class="n" transform="translate(342.4,483) scale(1.05,1)" x="0" y="0">9</text>
<circle class="w" style="stroke-width:1.4" cx="593.6" cy="83.1" r="15"/>
<text class="n" transform="translate(593.8,89.8) scale(1.05,1)" x="0" y="0">8</text>
<circle class="w" style="stroke-width:1.4" cx="746.2" cy="237.9" r="15"/>
<text class="n" transform="translate(746.4,244.6) scale(1.05,1)" x="0" y="0">5</text>
<circle class="w" style="stroke-width:1.4" cx="423.8" cy="373.5" r="15"/>
<text class="n" transform="translate(424,380.2) scale(1.05,1)" x="0" y="0">6</text>
<circle class="w" style="stroke-width:1.4" cx="517.8" cy="372.6" r="15"/>
<text class="n" transform="translate(518,379.3) scale(1.05,1)" x="0" y="0">7</text>
<circle class="w" style="stroke-width:1.4" cx="487.3" cy="493.5" r="15"/>
<text class="n" transform="translate(487.5,500.2) scale(1.05,1)" x="0" y="0">5</text>
<text class="n" transform="translate(139.5,80.5) scale(1.05,1)" x="0" y="0">1</text>
<text class="n" transform="translate(369,180.5) scale(1.05,1)" x="0" y="0">12</text>
<text class="n" transform="translate(333,336.7) scale(1.05,1)" x="0" y="0">13</text>
<text class="n" transform="translate(542.5,221.8) scale(1.05,1)" x="0" y="0">2</text>
<text class="n" transform="translate(601,248.5) scale(1.05,1)" x="0" y="0">1</text>
<text class="n" transform="translate(668.5,131.5) scale(1.05,1)" x="0" y="0">10</text>
<text class="n" transform="translate(668,159.3) scale(1.05,1)" x="0" y="0">11</text>
<text class="n" transform="translate(289.5,491) scale(1.05,1)" x="0" y="0">3</text>
<text class="n" transform="translate(403.5,536) scale(1.05,1)" x="0" y="0">4</text>
<path class="ld" d="M146,74.5 L197,74.5"/>
<path class="ld" d="M380,173.5 L410,173.5"/>
<path class="ld" d="M345,330.5 L375,330.5"/>
<path class="ld" d="M517.5,216.5 L536.5,216.5"/>
<path class="ld" d="M606,241.5 L639.5,241.5"/>
<path class="ld" d="M647.5,126.5 L658,126.5"/>
<path class="ld" style="stroke-width:1.2" d="M647.5,154 L658,154"/>
<path class="ld" style="stroke:#444" d="M595.5,104 L595.5,112.5"/>
<path class="ld" style="stroke:#bbb" d="M595.5,112.5 L595.5,118.5"/>
<path class="ld" style="stroke:#444" d="M595.5,118.5 L595.5,147"/>
<path class="lg" d="M79.5,282.5 L145.5,282.5"/>
<path class="lg" d="M159,282.5 L187.5,282.5"/>
<path class="lg" d="M439.5,373.5 L464.3,373.5"/>
<path class="lg" d="M480,373.5 L497.5,373.5"/>
<path class="ld" d="M140,341 L154.5,375"/>
<path class="ld" d="M723.8,218 L734.3,226.8"/>
<path class="ld" d="M296,21 L329,29"/>
<path class="ld" d="M289.5,474 L289.5,463 L322,445"/>
<path class="ld" d="M402.5,494 L402.5,520"/>
<path class="ld" style="stroke:#333;stroke-width:0.9" d="M502.6,495.6 L517.3,498.9 L519.8,516.2 L543,523"/>
<path class="ld" d="M262.4,427.5 L325,424.8"/>
<path class="ld" d="M357.6,477.4 L419,475"/>
<text transform="translate(21.8,553.8) scale(0.762,1)" style="font-weight:bold;font-size:16.6px;stroke:#000;stroke-width:0.25px">© BMW AG</text>
<!-- 90_panel -->
<g class="bd">
<path class="bd" d="M730.5,305.5 L796.5,305.5 L796.5,540.5 L730.5,540.5Z"/>
<path class="bd" d="M730.5,352.5 L796.5,352.5"/>
<path class="bd" d="M730.5,399.5 L796.5,399.5"/>
<path class="bd" d="M730.5,446.5 L796.5,446.5"/>
<path class="bd" d="M730.5,493.5 L796.5,493.5"/>
</g>
<text class="n" transform="translate(739.2,320.6) scale(1.14,1)" x="0" y="0">8</text>
<text class="n" transform="translate(739.7,368.6) scale(1.14,1)" x="0" y="0">7</text>
<text class="n" transform="translate(741.2,416.6) scale(1.14,1)" x="0" y="0">6</text>
<text class="n" transform="translate(739.4,462.2) scale(1.14,1)" x="0" y="0">5</text>
<text class="n" transform="translate(741.2,485.2) scale(1.14,1)" x="0" y="0">9</text>
<g>
<path class="w" style="stroke-width:1.4" d="M753.2,333.2 C753.5,339.5 762,344.8 772.5,344.8 C783,344.8 791.5,339.5 791.8,333.2"/>
<ellipse class="w" style="stroke-width:1.4" cx="772.5" cy="331.6" rx="19.3" ry="11.2"/>
<path class="w" style="stroke:none" d="M757.5,322.5 L763,315 C766,313.6 769.5,313 773.5,313 C777.5,313.2 781,314.3 784,316 L788,324 L788,333 L781,338 L764.5,338 L757.5,333 Z"/>
<path style="stroke-width:0.8;stroke:#999" d="M757.5,333 L764.5,338 L781,338 L788,333"/>
<path style="stroke-width:1.3" d="M757.5,333 L757.5,322.5 L763,315.4 C766,313.8 769.5,313 773.5,313 C777.5,313.2 781,314.3 784,316.2 L788,324 L788,333"/>
<path style="stroke-width:0.8;stroke:#999" d="M757.5,322.5 L764,328.5 L781,328.5 L788,324"/>
<path style="stroke-width:0.8;stroke:#aaa" d="M764,328.5 L764.5,338"/>
<path style="stroke-width:0.8;stroke:#aaa" d="M781,328.5 L781,338"/>
<ellipse class="w" style="stroke-width:1.5" cx="772.5" cy="320.6" rx="8.4" ry="4.8"/>
<path style="stroke-width:0.7;stroke:#888" d="M765.5,321.5 C768,323.6 777,323.6 779.5,321.5"/>
</g>
<g>
<ellipse class="w" style="stroke-width:1.5" cx="772.6" cy="375.2" rx="14.3" ry="17.9" transform="rotate(-8 772.6 375.2)"/>
<ellipse style="stroke-width:1.3" cx="771.3" cy="375.2" rx="12" ry="16.6" transform="rotate(-8 771.3 375.2)"/>
<ellipse style="stroke-width:0.6;stroke:#999" cx="770.5" cy="375.3" rx="8.2" ry="13.5" transform="rotate(-8 770.5 375.3)"/>
<path class="w" style="stroke-width:1.2" d="M769.5,371 L775.5,370.6 C777.4,371.6 777.8,374 777.6,376 C777.4,378 776.6,379.6 775.3,380 L769.5,380.2"/>
<ellipse class="w" style="stroke-width:1.3" cx="769.3" cy="375.6" rx="2.7" ry="4.5" transform="rotate(-5 769.3 375.6)"/>
</g>
<g>
<path class="w" style="stroke-width:1.3" d="M785.3,419 C788.5,418 791.3,420 791.6,423.5 C791.6,426.5 789.3,428.6 786,428"/>
<ellipse class="w" style="stroke-width:1.5" cx="771" cy="424" rx="14.4" ry="18.4" transform="rotate(-12 771 424)"/>
<path style="stroke-width:0.7;stroke:#999" d="M777,409.5 C781.5,414 783,423 780.5,431.5 C778.5,437.5 774.5,441 770,441.5"/>
</g>
<g>
<path class="w" style="stroke-width:1.3" d="M770.2,465 L770.2,486 C770.6,487.6 771.3,488.3 772.3,488.7 L780.8,488.7 C782,488.3 782.7,487.6 783,486 L783,465 Z"/>
<path style="stroke-width:0.7;stroke:#999" d="M771,470 C774,471.6 779,471.6 782.3,470"/>
<path style="stroke-width:0.7;stroke:#999" d="M771,473.5 C774,475.1 779,475.1 782.3,473.5"/>
<path style="stroke-width:0.7;stroke:#999" d="M771,477 C774,478.6 779,478.6 782.3,477"/>
<path style="stroke-width:0.7;stroke:#999" d="M771,480.5 C774,482.1 779,482.1 782.3,480.5"/>
<path style="stroke-width:0.7;stroke:#999" d="M771,484 C774,485.6 779,485.6 782.3,484"/>
<ellipse class="w" style="stroke-width:1.5" cx="776.5" cy="459.4" rx="10.9" ry="7.2"/>
<path style="stroke-width:1.1" d="M771,456 L774,458.6 L780,458.6 L783,456"/>
</g>
<path class="k" style="stroke-width:1" d="M734.9,509.5 L744.2,514.1 L774,497.2 L791.8,507.3 L792.5,513.5 L768.7,527.4 L772,530 L772,535.6 L734.9,535.6Z"/>
<path class="w" style="stroke-width:1" d="M734.9,509.5 L744.2,514.1 L774,497.2 L791.8,507.3 L762.7,524.7 L768.7,529.4 L734.9,529.4Z"/>
<text transform="translate(762.8,553) scale(1.03,1)" style="font-size:12px;text-anchor:middle;stroke:#000;stroke-width:0.15px">00141331</text>
</svg>
</body>
</html>
